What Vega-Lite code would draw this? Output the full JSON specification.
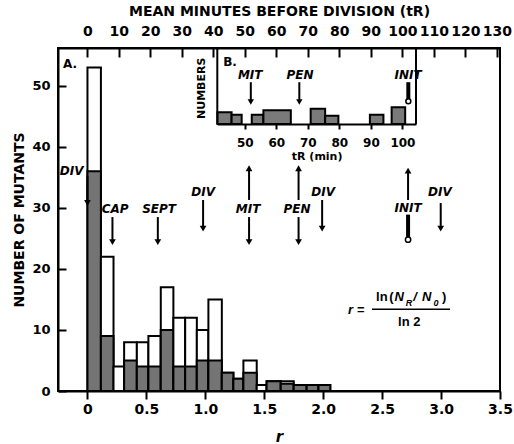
{
  "$schema": "https://vega.github.io/schema/vega-lite/v6.json",
  "width": 442,
  "height": 343,
  "autosize": "none",
  "padding": {"left": 58, "top": 48, "right": 14, "bottom": 53},
  "background": "white",
  "config": {
    "view": {"stroke": "black", "strokeWidth": 2},
    "axis": {
      "domainColor": "black", "domainWidth": 2, "tickColor": "black", "tickWidth": 2,
      "labelColor": "black", "titleColor": "black", "labelFont": "DejaVu Sans", "titleFont": "DejaVu Sans",
      "labelFontWeight": "bold", "titleFontWeight": "bold", "grid": false, "labelFlush": false, "labelOverlap": false
    },
    "text": {"font": "DejaVu Sans", "color": "black"}
  },
  "datasets": {
    "bins": [
      {"x": 0, "x2": 0.114, "total": 53, "hatched": 36},
      {"x": 0.114, "x2": 0.221, "total": 22, "hatched": 9},
      {"x": 0.221, "x2": 0.311, "total": 4, "hatched": 0},
      {"x": 0.311, "x2": 0.419, "total": 8, "hatched": 5},
      {"x": 0.419, "x2": 0.517, "total": 8, "hatched": 4},
      {"x": 0.517, "x2": 0.622, "total": 9, "hatched": 4},
      {"x": 0.622, "x2": 0.729, "total": 17, "hatched": 10},
      {"x": 0.729, "x2": 0.829, "total": 12, "hatched": 4},
      {"x": 0.829, "x2": 0.928, "total": 12, "hatched": 4},
      {"x": 0.928, "x2": 1.026, "total": 10, "hatched": 5},
      {"x": 1.026, "x2": 1.14, "total": 15, "hatched": 5},
      {"x": 1.14, "x2": 1.238, "total": 3, "hatched": 3},
      {"x": 1.238, "x2": 1.323, "total": 2, "hatched": 2},
      {"x": 1.323, "x2": 1.436, "total": 5, "hatched": 3},
      {"x": 1.436, "x2": 1.52, "total": 1, "hatched": 0},
      {"x": 1.52, "x2": 1.64, "total": 1.6, "hatched": 1.6},
      {"x": 1.64, "x2": 1.75, "total": 1.6, "hatched": 1.2},
      {"x": 1.75, "x2": 1.86, "total": 1, "hatched": 1},
      {"x": 1.86, "x2": 1.96, "total": 1, "hatched": 1},
      {"x": 1.96, "x2": 2.06, "total": 1, "hatched": 1}
    ],
    "arrows": [
      {"x": 0, "y": 30.8, "y2": 35.2, "dir": "down"},
      {"x": 0.212, "y": 24.4, "y2": 28.5, "dir": "down"},
      {"x": 0.597, "y": 24.4, "y2": 28.5, "dir": "down"},
      {"x": 0.981, "y": 26.6, "y2": 31.3, "dir": "down"},
      {"x": 1.371, "y": 36.5, "y2": 31.3, "dir": "up"},
      {"x": 1.371, "y": 24.4, "y2": 28.5, "dir": "down"},
      {"x": 1.791, "y": 36.5, "y2": 31.3, "dir": "up"},
      {"x": 1.791, "y": 24.4, "y2": 28.5, "dir": "down"},
      {"x": 1.991, "y": 26.6, "y2": 31.3, "dir": "down"},
      {"x": 2.72, "y": 36.1, "y2": 31.3, "dir": "up"},
      {"x": 2.997, "y": 26.6, "y2": 30.8, "dir": "down"}
    ],
    "thick": [{"x": 2.72, "y": 24.8, "y2": 28.9}],
    "labels": [
      {"x": -0.134, "y": 36.1, "text": "DIV"},
      {"x": 0.235, "y": 29.8, "text": "CAP"},
      {"x": 0.608, "y": 29.8, "text": "SEPT"},
      {"x": 0.981, "y": 32.6, "text": "DIV"},
      {"x": 1.363, "y": 29.8, "text": "MIT"},
      {"x": 1.778, "y": 29.8, "text": "PEN"},
      {"x": 2.0, "y": 32.6, "text": "DIV"},
      {"x": 2.72, "y": 30.0, "text": "INIT"},
      {"x": 2.99, "y": 32.6, "text": "DIV"}
    ],
    "panelA": [{"x": -0.147, "y": 53.6, "text": "A."}],
    "fnorm": [
      {"x": 2.449, "y": 15.4, "text": "ln"},
      {"x": 2.56, "y": 15.4, "text": "("},
      {"x": 3.008, "y": 15.4, "text": ")"},
      {"x": 2.635, "y": 11.3, "text": "ln 2"}
    ],
    "fital": [
      {"x": 2.605, "y": 15.4, "text": "N"},
      {"x": 2.763, "y": 15.4, "text": "/"},
      {"x": 2.839, "y": 15.4, "text": "N"},
      {"x": 2.211, "y": 13.3, "text": "r ="}
    ],
    "fsub": [
      {"x": 2.7, "y": 14.5, "text": "R"},
      {"x": 2.935, "y": 14.5, "text": "0"}
    ],
    "fline": [{"x": 2.414, "x2": 3.076, "y": 13.4}],
    "ibins": [
      {"x": 41.3, "x2": 45.8, "y": 1.54},
      {"x": 45.8, "x2": 49.0, "y": 1.22},
      {"x": 52.2, "x2": 55.9, "y": 1.22},
      {"x": 55.9, "x2": 64.6, "y": 1.8},
      {"x": 70.9, "x2": 75.5, "y": 2.0},
      {"x": 75.5, "x2": 79.7, "y": 1.1},
      {"x": 89.7, "x2": 94.0, "y": 1.22},
      {"x": 96.6, "x2": 100.9, "y": 2.2}
    ],
    "iarrows": [
      {"x": 51.9, "y": 2.9, "y2": 5.5},
      {"x": 67.3, "y": 2.9, "y2": 5.5}
    ],
    "ithick": [{"x": 101.9, "y": 3.0, "y2": 5.5}],
    "ilabels": [
      {"x": 51.7, "y": 6.45, "text": "MIT"},
      {"x": 67.5, "y": 6.45, "text": "PEN"},
      {"x": 101.8, "y": 6.45, "text": "INIT"}
    ],
    "panelB": [{"x": 45.3, "y": 8.2, "text": "B."}],
    "iytitle": [{"x": 36.4, "y": 4.7, "text": "NUMBERS"}],
    "iframe": [
      {"x": 41.3, "y": 0, "y2": 10},
      {"x": 104.3, "y": 0, "y2": 10}
    ]
  },
  "layer": [
    {
      "encoding": {
        "x": {
          "field": "x", "type": "quantitative", "title": "r",
          "scale": {"domain": [-0.25, 3.5], "nice": false, "zero": false},
          "axis": {
            "values": [0, 0.5, 1, 1.5, 2, 2.5, 3, 3.5],
            "labelExpr": "datum.value == 0 ? '0' : format(datum.value, '.1f')",
            "tickSize": 8, "labelPadding": 3, "labelFontSize": 14,
            "titleFontSize": 15, "titleFontStyle": "italic", "titlePadding": 13
          }
        },
        "y": {
          "field": "y", "type": "quantitative", "title": "NUMBER OF MUTANTS", "stack": null,
          "scale": {"domain": [0, 56.2], "nice": false},
          "axis": {
            "values": [0, 10, 20, 30, 40, 50], "tickSize": -8, "labelPadding": 16,
            "labelFontSize": 13, "titleFontSize": 14, "titlePadding": 5
          }
        }
      },
      "layer": [
        {
          "data": {"name": "bins"},
          "transform": [{"fold": ["total", "hatched"], "as": ["part", "y"]}],
          "mark": {"type": "bar", "stroke": "black", "strokeWidth": 2},
          "encoding": {
            "x2": {"field": "x2"},
            "y2": {"datum": 0},
            "fill": {"field": "part", "type": "nominal", "scale": {"domain": ["total", "hatched"], "range": ["white", "#747474"]}, "legend": null}
          }
        },
        {
          "data": {"name": "arrows"},
          "mark": {"type": "rule", "strokeWidth": 2, "color": "black"},
          "encoding": {"y2": {"field": "y2"}}
        },
        {
          "data": {"name": "arrows"},
          "mark": {"type": "point", "filled": true, "color": "black", "opacity": 1, "size": 45},
          "encoding": {"shape": {"field": "dir", "type": "nominal", "scale": {"domain": ["down", "up"], "range": ["triangle-down", "triangle-up"]}, "legend": null}}
        },
        {
          "data": {"name": "thick"},
          "mark": {"type": "rule", "strokeWidth": 4, "color": "black"},
          "encoding": {"y2": {"field": "y2"}}
        },
        {
          "data": {"name": "thick"},
          "mark": {"type": "point", "shape": "circle", "filled": true, "fill": "white", "stroke": "black", "strokeWidth": 1.5, "opacity": 1, "size": 28},
          "encoding": {}
        },
        {
          "data": {"name": "labels"},
          "mark": {"type": "text", "fontStyle": "italic", "fontWeight": "bold", "fontSize": 12, "align": "center", "baseline": "middle"},
          "encoding": {"text": {"field": "text"}}
        },
        {
          "data": {"name": "panelA"},
          "mark": {"type": "text", "fontWeight": "bold", "fontSize": 12, "align": "center", "baseline": "middle"},
          "encoding": {"text": {"field": "text"}}
        },
        {
          "data": {"name": "fnorm"},
          "mark": {"type": "text", "font": "Liberation Sans", "fontWeight": "bold", "fontSize": 13, "align": "left", "baseline": "middle"},
          "encoding": {"text": {"field": "text"}}
        },
        {
          "data": {"name": "fital"},
          "mark": {"type": "text", "font": "Liberation Sans", "fontStyle": "italic", "fontWeight": "bold", "fontSize": 13, "align": "left", "baseline": "middle"},
          "encoding": {"text": {"field": "text"}}
        },
        {
          "data": {"name": "fsub"},
          "mark": {"type": "text", "font": "Liberation Sans", "fontStyle": "italic", "fontWeight": "bold", "fontSize": 9, "align": "left", "baseline": "middle"},
          "encoding": {"text": {"field": "text"}}
        },
        {
          "data": {"name": "fline"},
          "mark": {"type": "rule", "strokeWidth": 1.5, "color": "black"},
          "encoding": {"x2": {"field": "x2"}}
        }
      ]
    },
    {
      "encoding": {
        "x": {
          "field": "x", "type": "quantitative", "title": "MEAN MINUTES BEFORE DIVISION (tR)",
          "scale": {"domain": [-9.3, 131], "nice": false, "zero": false},
          "axis": {
            "orient": "top", "values": [0, 10, 20, 30, 40, 50, 60, 70, 80, 90, 100, 110, 120, 130],
            "format": "d", "tickSize": -9, "labelPadding": 19, "labelFontSize": 14,
            "titleFontSize": 14, "titlePadding": 6
          }
        },
        "y": {
          "field": "y", "type": "quantitative",
          "scale": {"domain": [0, 10], "range": [76, 0], "nice": false},
          "axis": null
        }
      },
      "layer": [
        {
          "data": {"name": "ibins"},
          "mark": {"type": "bar", "fill": "#7a7a7a", "stroke": "black", "strokeWidth": 2},
          "encoding": {"x2": {"field": "x2"}, "y2": {"datum": 0}}
        },
        {
          "data": {"name": "iarrows"},
          "mark": {"type": "rule", "strokeWidth": 2, "color": "black"},
          "encoding": {"y2": {"field": "y2"}}
        },
        {
          "data": {"name": "iarrows"},
          "mark": {"type": "point", "shape": "triangle-down", "filled": true, "color": "black", "opacity": 1, "size": 40},
          "encoding": {}
        },
        {
          "data": {"name": "ithick"},
          "mark": {"type": "rule", "strokeWidth": 4, "color": "black"},
          "encoding": {"y2": {"field": "y2"}}
        },
        {
          "data": {"name": "ithick"},
          "mark": {"type": "point", "shape": "circle", "filled": true, "fill": "white", "stroke": "black", "strokeWidth": 1.5, "opacity": 1, "size": 25},
          "encoding": {}
        },
        {
          "data": {"name": "ilabels"},
          "mark": {"type": "text", "fontStyle": "italic", "fontWeight": "bold", "fontSize": 12, "align": "center", "baseline": "middle"},
          "encoding": {"text": {"field": "text"}}
        },
        {
          "data": {"name": "panelB"},
          "mark": {"type": "text", "fontWeight": "bold", "fontSize": 12, "align": "center", "baseline": "middle"},
          "encoding": {"text": {"field": "text"}}
        },
        {
          "data": {"name": "iytitle"},
          "mark": {"type": "text", "fontWeight": "bold", "fontSize": 11, "angle": 270, "align": "center", "baseline": "middle"},
          "encoding": {"text": {"field": "text"}}
        }
      ]
    },
    {
      "data": {"name": "iframe"},
      "mark": {"type": "rule", "strokeWidth": 2, "color": "black"},
      "encoding": {
        "x": {
          "field": "x", "type": "quantitative", "title": "tR (min)",
          "scale": {"domain": [41.3, 104.3], "range": [159.3, 358], "nice": false, "zero": false},
          "axis": {
            "orient": "bottom", "offset": -267, "values": [50, 60, 70, 80, 90, 100], "format": "d",
            "tickSize": 5, "labelPadding": 8, "labelFontSize": 12, "titleFontSize": 11, "titlePadding": 2
          }
        },
        "y": {
          "field": "y", "type": "quantitative",
          "scale": {"domain": [0, 10], "range": [76, 0], "nice": false},
          "axis": null
        },
        "y2": {"field": "y2"}
      }
    }
  ],
  "resolve": {
    "scale": {"x": "independent", "y": "independent"},
    "axis": {"x": "independent", "y": "independent"}
  }
}
